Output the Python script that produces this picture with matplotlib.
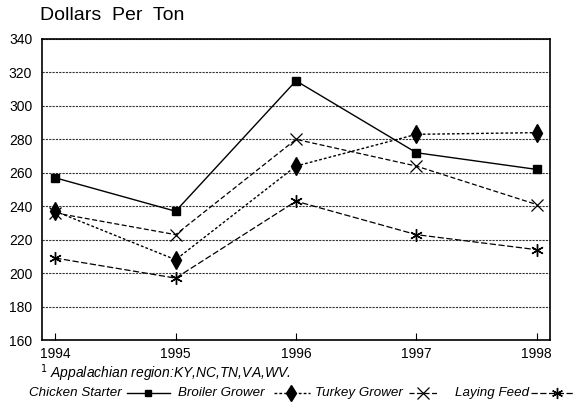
import matplotlib
matplotlib.use("Agg")
import matplotlib.pyplot as plt
from matplotlib.lines import Line2D

plt.rcParams['font.family'] = ['Liberation Sans', 'DejaVu Sans']

years = [1994, 1995, 1996, 1997, 1998]
chicken_starter = [257, 237, 315, 272, 262]
broiler_grower = [237, 208, 264, 283, 284]
turkey_grower = [236, 223, 280, 264, 241]
laying_feed = [209, 197, 243, 223, 214]

series_labels = ["Chicken Starter", "Broiler Grower", "Turkey Grower", "Laying Feed"]
y_ticks = [160, 180, 200, 220, 240, 260, 280, 300, 320, 340]

W, H = 584, 403
fig = plt.figure(figsize=(W / 100, H / 100), dpi=100)
ax = fig.add_axes([42 / W, 1 - 340 / H, (550 - 42) / W, (340 - 39) / H])

asterisk = (6, 2, 0)
styles = [
    dict(ls='-', marker='s', ms=5.5, lw=1.0),
    dict(ls=(0, (2, 1.5)), marker='d', ms=9, lw=1.0),
    dict(ls=(0, (4, 2)), marker='x', ms=9, mew=0.9, lw=0.9),
    dict(ls=(0, (5, 2)), marker=asterisk, ms=9, mew=1.0, lw=0.9),
]
for vals, st in zip([chicken_starter, broiler_grower, turkey_grower, laying_feed], styles):
    ax.plot(years, vals, color='black', zorder=3, **st)

ax.set_xlim(1993.89, 1998.11)
ax.set_ylim(160, 340)
ax.set_yticks(y_ticks)
ax.set_xticks(years)
ax.yaxis.grid(True, color='#333333', ls=(0, (2, 1)), lw=0.8)
ax.set_axisbelow(True)
ax.tick_params(axis='y', length=0, labelsize=10, pad=7)
ax.tick_params(axis='x', direction='in', length=5, width=0.8, labelsize=10, pad=5)
for s in ax.spines.values():
    s.set_linewidth(1.2)

fig.text(40 / W, 1 - 16 / H, "Dollars  Per  Ton", fontsize=14, va='center', ha='left')
fig.text(40 / W, 1 - 373 / H, "$^{1}$ Appalachian region:KY,NC,TN,VA,WV.", fontsize=10,
         style='italic', va='center', ha='left')

# legend row: label followed by its line sample
ly = 1 - 393 / H
legend_items = [
    (29, 127, 170, 148),
    (178, 274, 310, 291),
    (315, 409, 438, 423),
    (455, 531, 574, 557),
]
legend_ms = [5, 8, 8, 8]
for label, st, (tx, x0, x1, xm), lms in zip(series_labels, styles, legend_items, legend_ms):
    fig.text(tx / W, ly, label, fontsize=9.6, style='italic', va='center', ha='left')
    fig.add_artist(Line2D([x0 / W, x1 / W], [ly, ly], color='black', ls=st['ls'],
                          lw=st['lw'], transform=fig.transFigure))
    fig.add_artist(Line2D([xm / W], [ly], color='black', ls='none', marker=st['marker'],
                          ms=lms, mew=st.get('mew', 1.0), transform=fig.transFigure))

fig.savefig("out.png", dpi=100)
